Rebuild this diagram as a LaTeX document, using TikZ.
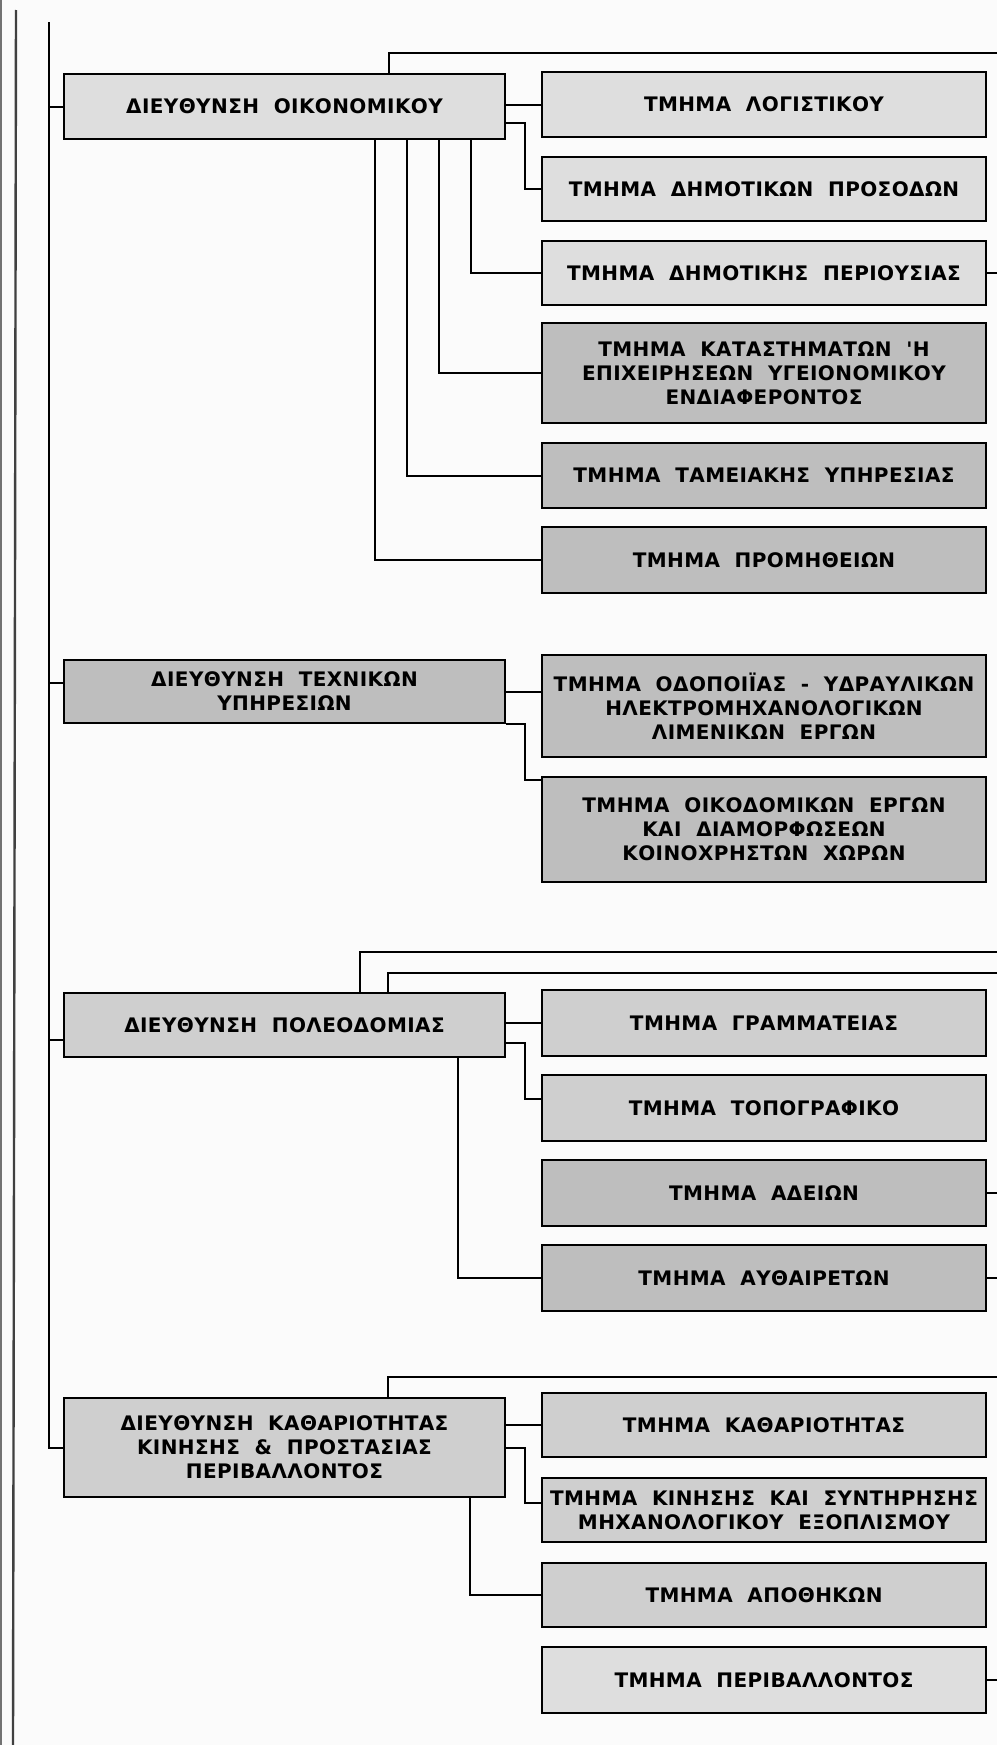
\documentclass[tikz,border=0pt]{standalone}
\usepackage{fontspec}
\usetikzlibrary{calc}
\newfontfamily\gkfont[LetterSpace=2, WordSpace=2, BoldFont={DejaVu Sans Bold}]{DejaVu Sans}
\definecolor{paper}{HTML}{FBFBFB}
\definecolor{boxlight}{HTML}{DEDEDE}
\definecolor{boxmid}{HTML}{CFCFCF}
\definecolor{boxdark}{HTML}{BEBEBE}

\begin{document}
\begin{tikzpicture}[x=0.5pt, y=-0.5pt,
    link/.style={line width=1pt},
    unit/.style={draw, line width=1.2pt, fill=boxmid, minimum width=222pt, inner sep=0pt,
        align=center, font=\gkfont\bfseries\fontsize{10}{12}\selectfont},
    head/.style={unit, minimum width=220.5pt}]
\fill[paper] (0,0) rectangle (997,1745);
\useasboundingbox (0,0) rectangle (997,1745);

% page edge
\draw[line width=0.6pt, black!55] (1,0) -- (1,1745);
\draw[line width=1.2pt, black!75] (16,10) -- (13,1745);

% free ends at the right rim
\coordinate (r1) at (997,53);
\coordinate (r2) at (997,952);
\coordinate (r3) at (997,973);
\coordinate (r4) at (997,1377);
\coordinate (top) at (49,22);

% --- economic
\node (oik) at (284.5,106.5)[head, fill=boxlight, minimum height=32.5pt] {ΔΙΕΥΘΥΝΣΗ ΟΙΚΟΝΟΜΙΚΟΥ};
\node (log) at (764,104.5)[unit, fill=boxlight, minimum height=32.5pt] {ΤΜΗΜΑ ΛΟΓΙΣΤΙΚΟΥ};
\node (pros) at (764,189)[unit, fill=boxlight, minimum height=32pt] {ΤΜΗΜΑ ΔΗΜΟΤΙΚΩΝ ΠΡΟΣΟΔΩΝ};
\node (peri) at (764,273)[unit, fill=boxlight, minimum height=32pt] {ΤΜΗΜΑ ΔΗΜΟΤΙΚΗΣ ΠΕΡΙΟΥΣΙΑΣ};
\node (kat) at (764,373)[unit, fill=boxdark, minimum height=50pt] {ΤΜΗΜΑ ΚΑΤΑΣΤΗΜΑΤΩΝ 'Η\\ΕΠΙΧΕΙΡΗΣΕΩΝ ΥΓΕΙΟΝΟΜΙΚΟΥ\\ΕΝΔΙΑΦΕΡΟΝΤΟΣ};
\node (tam) at (764,475.5)[unit, fill=boxdark, minimum height=32.5pt] {ΤΜΗΜΑ ΤΑΜΕΙΑΚΗΣ ΥΠΗΡΕΣΙΑΣ};
\node (prom) at (764,560)[unit, fill=boxdark, minimum height=33pt] {ΤΜΗΜΑ ΠΡΟΜΗΘΕΙΩΝ};

% --- technical
\node (tex) at (284.5,691.5)[head, fill=boxdark, minimum height=31.5pt] {ΔΙΕΥΘΥΝΣΗ ΤΕΧΝΙΚΩΝ\\ΥΠΗΡΕΣΙΩΝ};
\node (odo) at (764,706)[unit, fill=boxdark, minimum height=51pt] {ΤΜΗΜΑ ΟΔΟΠΟΙΪΑΣ - ΥΔΡΑΥΛΙΚΩΝ\\ΗΛΕΚΤΡΟΜΗΧΑΝΟΛΟΓΙΚΩΝ\\ΛΙΜΕΝΙΚΩΝ ΕΡΓΩΝ};
\node (okd) at (764,829.5)[unit, fill=boxdark, minimum height=52.5pt] {ΤΜΗΜΑ ΟΙΚΟΔΟΜΙΚΩΝ ΕΡΓΩΝ\\ΚΑΙ ΔΙΑΜΟΡΦΩΣΕΩΝ\\ΚΟΙΝΟΧΡΗΣΤΩΝ ΧΩΡΩΝ};

% --- town planning
\node (pol) at (284.5,1025)[head, fill=boxmid, minimum height=32pt] {ΔΙΕΥΘΥΝΣΗ ΠΟΛΕΟΔΟΜΙΑΣ};
\node (gram) at (764,1023)[unit, minimum height=33pt] {ΤΜΗΜΑ ΓΡΑΜΜΑΤΕΙΑΣ};
\node (topo) at (764,1108)[unit, minimum height=33pt] {ΤΜΗΜΑ ΤΟΠΟΓΡΑΦΙΚΟ};
\node (adei) at (764,1193)[unit, fill=boxdark, minimum height=33pt] {ΤΜΗΜΑ ΑΔΕΙΩΝ};
\node (auth) at (764,1278)[unit, fill=boxdark, minimum height=33pt] {ΤΜΗΜΑ ΑΥΘΑΙΡΕΤΩΝ};

% --- cleaning
\node (kath) at (284.5,1447.5)[head, minimum height=49.5pt] {ΔΙΕΥΘΥΝΣΗ ΚΑΘΑΡΙΟΤΗΤΑΣ\\ΚΙΝΗΣΗΣ \& ΠΡΟΣΤΑΣΙΑΣ\\ΠΕΡΙΒΑΛΛΟΝΤΟΣ};
\node (kth) at (764,1425)[unit, minimum height=32pt] {ΤΜΗΜΑ ΚΑΘΑΡΙΟΤΗΤΑΣ};
\node (kin) at (764,1510)[unit, minimum height=32pt] {ΤΜΗΜΑ ΚΙΝΗΣΗΣ ΚΑΙ ΣΥΝΤΗΡΗΣΗΣ\\ΜΗΧΑΝΟΛΟΓΙΚΟΥ ΕΞΟΠΛΙΣΜΟΥ};
\node (apo) at (764,1595)[unit, minimum height=32pt] {ΤΜΗΜΑ ΑΠΟΘΗΚΩΝ};
\node (perib) at (764,1680)[unit, fill=boxlight, minimum height=33pt] {ΤΜΗΜΑ ΠΕΡΙΒΑΛΛΟΝΤΟΣ};

% spine
\draw[link] (top) |- (kath.west);
\draw[link] (top |- oik.west) -- (oik.west);
\draw[link] ($(top |- tex.west)+(0,-8.5)$) -- ($(tex.west)+(0,-8.5)$);
\draw[link] ($(top |- pol.west)+(0,15)$) -- ($(pol.west)+(0,15)$);

% economic links
\draw[link] (oik.north -| 389,0) |- (r1);
\draw[link] (oik.east |- log.west) -- (log.west);
\draw[link] ($(oik.east)+(0,16.5)$) -- ++(19,0) |- (pros.west);
\draw[link] (oik.south -| 471,0) |- (peri.west);
\draw[link] (oik.south -| 439,0) |- (kat.west);
\draw[link] (oik.south -| 407,0) |- (tam.west);
\draw[link] (oik.south -| 375,0) |- (prom.west);
\draw[link] (peri.east) -- (peri.east -| r1);

% technical links
\draw[link] (tex.east) -- (tex.east -| odo.west);
\draw[link] (tex.south east) -- ++(19,0) |- ($(okd.north west)+(0,4)$);

% town planning links
\draw[link] (pol.north -| 360,0) |- (r2);
\draw[link] (pol.north -| 388,0) |- (r3);
\draw[link] (pol.east |- gram.west) -- (gram.west);
\draw[link] ($(pol.east)+(0,18)$) -- ++(19,0) |- ($(topo.west)+(0,-9)$);
\draw[link] (pol.south -| 458,0) |- (auth.west);
\draw[link] (adei.east) -- (adei.east -| r1);
\draw[link] (auth.east) -- (auth.east -| r1);

% cleaning links
\draw[link] (kath.north -| 388,0) |- (r4);
\draw[link] (kath.east |- kth.west) -- (kth.west);
\draw[link] (kath.east) -- ++(19,0) |- ($(kin.west)+(0,-7)$);
\draw[link] (kath.south -| 470,0) |- (apo.west);
\draw[link] (perib.east) -- (perib.east -| r1);
\end{tikzpicture}
\end{document}
